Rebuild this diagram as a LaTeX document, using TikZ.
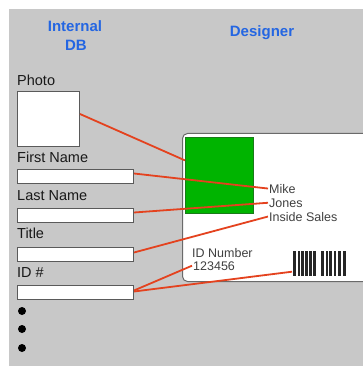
\documentclass[tikz,border=0pt]{standalone}
\usepackage{fontspec}
\setmainfont{Liberation Sans}
\definecolor{bggray}{HTML}{C8C8C8}
\definecolor{hdrblue}{HTML}{2466E2}
\definecolor{linkred}{HTML}{E4421E}
\definecolor{photogreen}{HTML}{00B400}
\definecolor{greenedge}{HTML}{1A7A1A}
\definecolor{cardedge}{HTML}{6A6A6A}
\definecolor{fieldedge}{HTML}{5A5A5A}
\definecolor{cardtext}{HTML}{404040}
\begin{document}
\begin{tikzpicture}[x=1pt,y=-1pt,
  lbl/.style={font=\fontsize{14.5}{14.5}\selectfont, anchor=base west, inner sep=0pt, text=black!90},
  hdr/.style={font=\bfseries\fontsize{15}{15}\selectfont, text=hdrblue, anchor=base, inner sep=0pt},
  field/.style={draw=fieldedge, fill=white, line width=1pt, minimum width=116pt, minimum height=14pt, anchor=north west, inner sep=0pt},
  link/.style={draw=linkred, line width=1.8pt},
  cardtxt/.style={font=\fontsize{12.5}{12.5}\selectfont, text=cardtext, anchor=base west, inner sep=1pt},
  dot/.style={circle, fill=black, inner sep=0pt, minimum size=8pt}]
\useasboundingbox (0,0) rectangle (363,366);
\clip (0,0) rectangle (363,366);
\fill[white] (0,0) rectangle (363,366);
\fill[bggray] (9,9) rectangle (363,366);
% headers
\node[hdr] (h1) at (75,32) {Internal};
\node[hdr] (h2) at (76,51) {DB};
\node[hdr] (h3) at (262,37) {Designer};
% left form
\node[lbl] (lphoto) at (17,86) {Photo};
\node[draw=fieldedge, fill=white, line width=1pt, minimum width=62pt, minimum height=55pt, anchor=north west, inner sep=0pt] (photo) at (17,91) {};
\node[lbl] (lfirst) at (17,162) {First Name};
\node[field] (first) at (17,169) {};
\node[lbl] (llast) at (17,200) {Last Name};
\node[field] (last) at (17,208) {};
\node[lbl] (ltitle) at (17,238) {Title};
\node[field] (title) at (17,247) {};
\node[lbl] (lid) at (17,277) {ID \#};
\node[field] (idf) at (17,285) {};
\node[dot] (b1) at (22,311) {};
\node[dot] (b2) at (22,329) {};
\node[dot] (b3) at (22,348) {};
% card
\node[draw=cardedge, fill=white, line width=1pt, rounded corners=5pt, minimum width=200pt, minimum height=148pt, anchor=north west, inner sep=0pt] (card) at (182,133) {};
\node[draw=greenedge, fill=photogreen, line width=0.8pt, minimum width=68pt, minimum height=76pt, anchor=north west, inner sep=0pt] (green) at (185,137) {};
\node[cardtxt] (mike) at (268,193) {Mike};
\node[cardtxt] (jones) at (268,207) {Jones};
\node[cardtxt] (sales) at (268,221) {Inside Sales};
\node[cardtxt] (idnum) at (191,257) {ID Number};
\node[cardtxt] (idval) at (192,270) {123456};
\node[minimum width=55pt, minimum height=25pt, anchor=north west, inner sep=0pt] (bar) at (292,251) {};
\foreach \bx/\bw in {293/3,297.5/2,301/2.5,305/2.5,309/2.5,313/2.5,321/3,325.5/2,329/3,333.5/2.5,338/3,343/2.5}
  \fill[black!85] (\bx,251) rectangle ++(\bw,25);
% links
\draw[link] ([yshift=5pt]photo.east) -- ([yshift=15pt]green.west);
\draw[link] ([yshift=3pt]first.east) -- (mike.west);
\draw[link] ([yshift=3pt]last.east) -- (jones.west);
\draw[link] ([yshift=2pt]title.east) -- (sales.west);
\draw[link] ([yshift=2pt]idf.east) -- (idval.west);
\draw[link] ([yshift=1pt]idf.east) -- ([yshift=-8pt]bar.west);
\end{tikzpicture}
\end{document}
